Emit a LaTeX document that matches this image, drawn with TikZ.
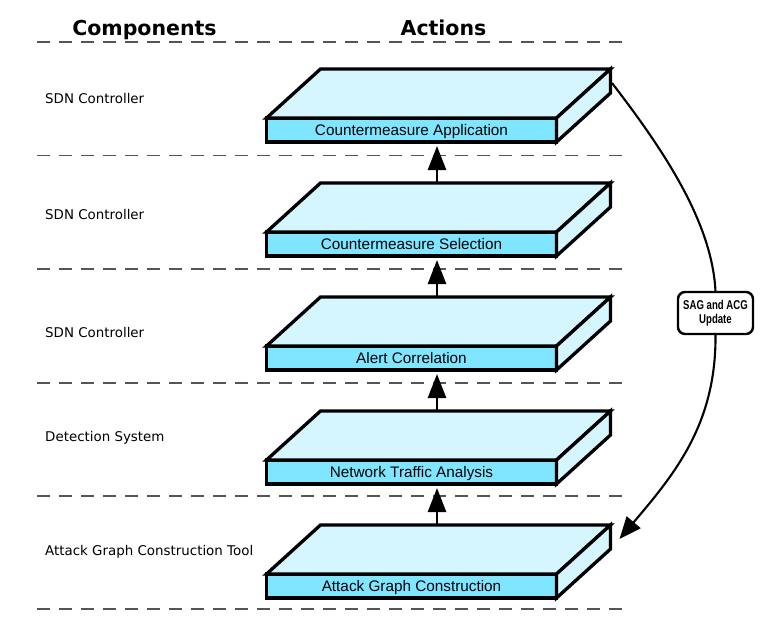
\documentclass[tikz,border=0pt]{standalone}
\usepackage{fontspec}
\setmainfont{Liberation Sans}
\newfontfamily\dejavu{DejaVu Sans}
\usetikzlibrary{arrows.meta}
\definecolor{frontc}{HTML}{80E5FF}
\definecolor{topc}{HTML}{D5F5FF}
\definecolor{dashc}{HTML}{555555}
\begin{document}
\begin{tikzpicture}[x=1pt,y=-1pt,
  front/.style={draw, line width=3.5pt, fill=frontc, minimum width=290pt, minimum height=24pt, inner sep=0pt, outer sep=0pt, text depth=0pt, font=\fontsize{15.3}{16}\selectfont},
  face/.style={draw, line width=3.3pt, fill=topc, line join=miter},
  sepline/.style={dashc, line width=1.5pt, dash pattern=on 13pt off 9pt},
  comp/.style={anchor=west, inner sep=0pt, font=\dejavu\fontsize{13.4}{15}\selectfont},
  head/.style={anchor=base, inner sep=0pt, font=\dejavu\bfseries\fontsize{20.5}{24}\selectfont},
  uparrow/.style={line width=2.6pt, -{Triangle[length=24pt,width=18pt]}},
  curvearrow/.style={line width=2.1pt},
  updbox/.style={draw, line width=2.4pt, rounded corners=7pt, fill=white, minimum width=75pt, minimum height=42pt, align=center, inner sep=0pt, outer sep=0pt, font=\bfseries\fontsize{12.8}{14.5}\selectfont},
]
\useasboundingbox (0,0) rectangle (772,643);
\fill[white] (0,0) rectangle (772,643);

% headers
\node[head] (hcomp) at (144.5,35) {Components};
\node[head] (hact) at (443.5,35) {Actions};

% dashed separators
\foreach \yy in {42,155.5,269,383,496,609}
  \draw[sepline] (37,\yy) -- (630,\yy);

% component labels
\node[comp] (c1) at (45,99) {SDN Controller};
\node[comp] (c2) at (45,215) {SDN Controller};
\node[comp] (c3) at (45,333) {SDN Controller};
\node[comp] (c4) at (45,438) {Detection System};
\node[comp] (c5) at (45,552) {Attack Graph Construction Tool};

% boxes
\foreach \i/\t in {1/Countermeasure Application,2/Countermeasure Selection,3/Alert Correlation,4/Network Traffic Analysis,5/Attack Graph Construction}{
  \node[front] (f\i) at (411.5,{130+114*(\i-1)}) {\t};
  \draw[face] (f\i.north west) -- ([shift={(54,-49)}]f\i.north west) -- ([shift={(54,-49)}]f\i.north east) coordinate (br\i) -- (f\i.north east) -- cycle;
  \draw[face] (f\i.north east) -- ([shift={(54,-49)}]f\i.north east) -- ([shift={(54,-49)}]f\i.south east) -- (f\i.south east) -- cycle;
  \coordinate (t\i) at ([shift={(25.5,-49)}]f\i.north);
}

% upward arrows
\foreach \a/\b in {2/1,3/2,4/3,5/4}
  \draw[uparrow, shorten >=4pt] (t\a) -- (t\a |- f\b.south);

% update loop
\node[updbox] (lab) at (715.5,313) {\scalebox{0.75}[1]{SAG and ACG}\\\scalebox{0.75}[1]{Update}};
\coordinate (cs) at ([shift={(1.5,14)}]br1);
\coordinate (ce) at ([shift={(9,14)}]br5);
\draw[curvearrow] (cs) .. controls +(50,65) and +(-3,-70) .. (lab.north);
\draw[curvearrow, -{Triangle[length=22pt,width=18pt]}] (lab.south) .. controls +(1,90) and +(55,-65) .. (ce);
\end{tikzpicture}
\end{document}
